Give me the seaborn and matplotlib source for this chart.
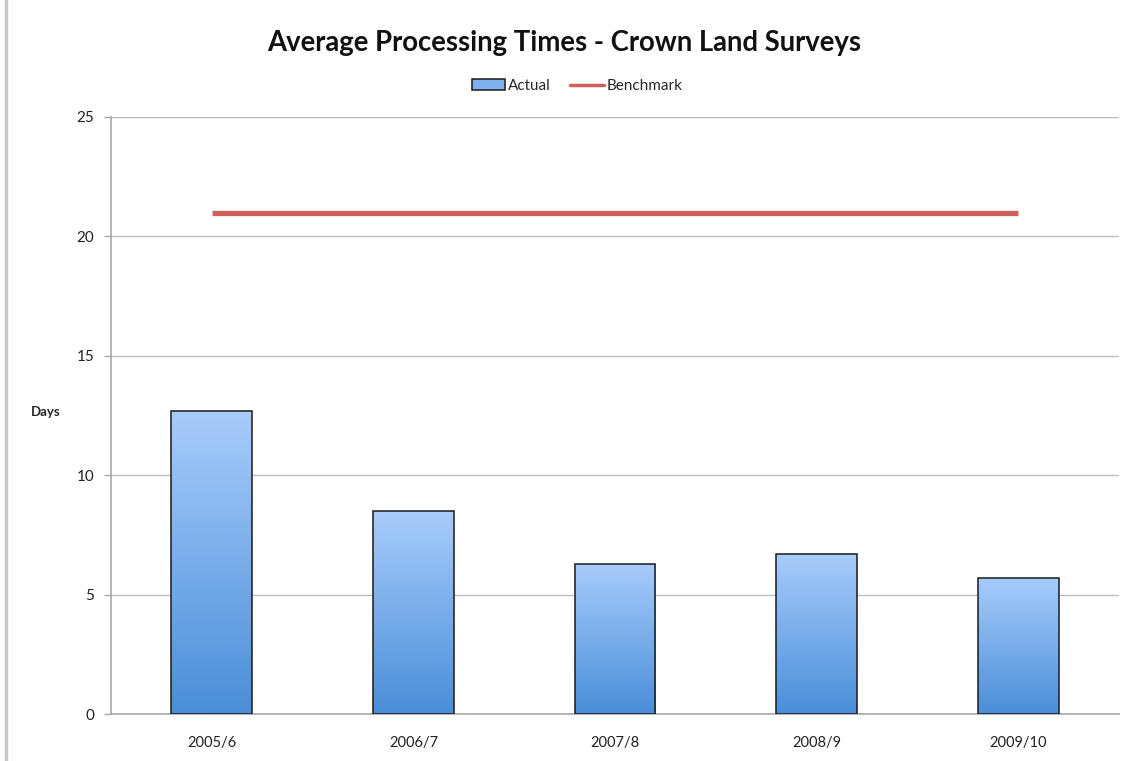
import numpy as np
import pandas as pd
import matplotlib
matplotlib.use('Agg')
import matplotlib.pyplot as plt
import seaborn as sns
from matplotlib.colors import LinearSegmentedColormap
from matplotlib.lines import Line2D
from matplotlib.patches import Patch

years = ["2005/6", "2006/7", "2007/8", "2008/9", "2009/10"]
actual = [12.7, 8.5, 6.3, 6.7, 5.7]
benchmark = [21, 21, 21, 21, 21]

sns.set_theme(style="white")
plt.rcParams['font.family'] = ['Lato', 'DejaVu Sans']

df = pd.DataFrame({"year": years, "actual": actual, "benchmark": benchmark})

fig = plt.figure(figsize=(11.29, 7.61), dpi=100)
ax = fig.add_axes([111 / 1129, 1 - 714 / 761, (1119 - 111) / 1129, (714 - 117) / 761])

sns.barplot(data=df, x="year", y="actual", ax=ax, width=0.4,
            color="#7fb1ef", edgecolor="#1a1a1a", linewidth=1.1, zorder=3)
ax.plot(np.arange(len(years)), df["benchmark"], color="#d0605c", lw=3.8,
        solid_capstyle='butt', zorder=4)

# vertical gradient fill on each bar
grad = LinearSegmentedColormap.from_list("g", ["#4a8ed8", "#a8ccfb"])
img = np.linspace(0, 1, 256).reshape(-1, 1)
for p in ax.patches:
    x0, y0, w, h = p.get_x(), p.get_y(), p.get_width(), p.get_height()
    im = ax.imshow(img, cmap=grad, origin='lower', aspect='auto',
                   extent=[x0, x0 + w, y0, y0 + h], zorder=2.9)
    im.set_clip_path(p)
    p.set_facecolor('none')

ax.set_xlim(-0.5, len(years) - 0.5)
ax.set_ylim(0, 25)
ax.set_yticks([0, 5, 10, 15, 20, 25])
ax.yaxis.grid(True, color="#bdbdbd", lw=1.0, zorder=0)
ax.set_axisbelow(True)
for s in ['top', 'right']:
    ax.spines[s].set_visible(False)
for s in ['left', 'bottom']:
    ax.spines[s].set_color("#a8a8a8")
    ax.spines[s].set_linewidth(1.2)

# category boundaries get the tick marks, labels sit in between
ax.set_xticks(np.arange(-0.5, len(years), 1.0), minor=False)
ax.set_xticklabels([])
ax.set_xticks(np.arange(len(years)), minor=True)
ax.set_xticklabels(years, minor=True, fontsize=10.5, color="#222222")
ax.tick_params(axis='x', which='major', direction='out', length=6, color="#a8a8a8", width=1)
ax.tick_params(axis='x', which='minor', length=0, pad=16)
ax.tick_params(axis='y', direction='out', length=5, color="#a8a8a8", width=1,
               labelsize=11, labelcolor="#222222", pad=7, left=True)

ax.set_xlabel("")
ax.set_ylabel("Days", rotation=0, fontsize=9.5, fontweight='bold', labelpad=0)
ax.yaxis.set_label_coords(-0.065, 0.496)

fig.text(0.5, 1 - 43 / 761, "Average Processing Times - Crown Land Surveys",
         ha='center', va='center', fontsize=19.8, fontweight='bold', color="#111111")

handles = [Patch(facecolor="#7fb1ef", edgecolor="#1a1a1a", linewidth=1.1, label="Actual"),
           Line2D([0], [0], color="#d0605c", lw=2.5, label="Benchmark")]
fig.legend(handles=handles, loc='center', bbox_to_anchor=(0.511, 1 - 86 / 761), ncol=2,
           frameon=False, fontsize=11, handlelength=2.2, handleheight=0.7,
           columnspacing=1.3, handletextpad=0.15)

# outer border of the original screenshot
fig.add_artist(Line2D([6 / 1129, 6 / 1129], [0, 1], color="#c8c8c8", lw=2.5))

fig.savefig("out.png", dpi=100)
